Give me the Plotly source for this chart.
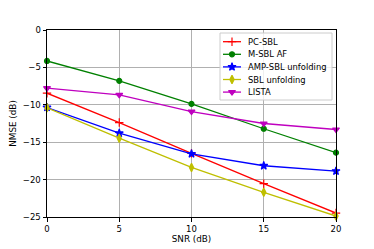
import plotly.graph_objects as go

snr = [0, 5, 10, 15, 20]
pc_sbl = [-8.45, -12.37, -16.5, -20.55, -24.47]
msbl_af = [-4.14, -6.8, -9.88, -13.2, -16.4]
amp_sbl = [-10.36, -13.8, -16.55, -18.15, -18.86]
sbl_unf = [-10.4, -14.46, -18.37, -21.7, -24.87]
lista = [-7.78, -8.67, -10.9, -12.5, -13.3]

names = ["PC-SBL", "M-SBL AF", "AMP-SBL unfolding", "SBL unfolding", "LISTA"]
values = [pc_sbl, msbl_af, amp_sbl, sbl_unf, lista]
colors = ["#ff0000", "#008000", "#0000ff", "#bfbf00", "#bf00bf"]
symbols = ["cross-thin", "circle", "star", "diamond-tall", "triangle-down"]
sizes = [6, 5, 6, 6, 6]

# figure layout in pixels
W, H = 374, 249
L, R, T, B = 47, 336, 30, 217

fig = go.Figure()
for name, ys, col, sym, sz in zip(names, values, colors, symbols, sizes):
    fig.add_trace(go.Scatter(
        x=snr, y=ys, name=name, mode="lines+markers",
        line=dict(color=col, width=1.3),
        marker=dict(symbol=sym, size=sz, color=col,
                    line=dict(color=col, width=1.2)),
        cliponaxis=False, showlegend=False,
    ))

# manual legend on a pixel-space overlay axis
lg_x0, lg_x1, lg_y0, lg_y1 = 220, 332, 33, 100
row_y0, row_dy = 41.7, 12.6
fig.add_trace(go.Scatter(
    x=[lg_x0, lg_x1, lg_x1, lg_x0, lg_x0], y=[lg_y0, lg_y0, lg_y1, lg_y1, lg_y0],
    xaxis="x2", yaxis="y2", mode="lines", fill="toself",
    fillcolor="rgba(255,255,255,0.8)", line=dict(color="#cccccc", width=1),
    showlegend=False, hoverinfo="skip",
))
for i, (name, col, sym, sz) in enumerate(zip(names, colors, symbols, sizes)):
    yy = row_y0 + i * row_dy
    fig.add_trace(go.Scatter(
        x=[223, 232, 241], y=[yy, yy, yy], xaxis="x2", yaxis="y2",
        mode="lines", line=dict(color=col, width=1.3),
        showlegend=False, hoverinfo="skip",
    ))
    fig.add_trace(go.Scatter(
        x=[232], y=[yy], xaxis="x2", yaxis="y2", mode="markers",
        marker=dict(symbol=sym, size=sz, color=col, line=dict(color=col, width=1.2)),
        showlegend=False, hoverinfo="skip",
    ))
    fig.add_annotation(x=247.5, y=yy, xref="x2", yref="y2", text=name,
                       showarrow=False, xanchor="left", yanchor="middle",
                       xshift=-2, font=dict(size=8.4, color="black"))

axis_common = dict(
    showgrid=True, gridcolor="#b0b0b0", gridwidth=0.8,
    showline=True, linecolor="black", linewidth=1, mirror=True,
    ticks="outside", ticklen=3.5, tickcolor="black", tickwidth=0.8,
    tickfont=dict(size=8.5), zeroline=False, automargin=False,
)

fig.update_layout(
    width=W, height=H,
    margin=dict(l=L, r=W - R, t=T, b=H - B),
    paper_bgcolor="white", plot_bgcolor="white",
    font=dict(family="DejaVu Sans", size=8.5, color="black"),
    showlegend=False,
    xaxis=dict(range=[0, 20], tickvals=[0, 5, 10, 15, 20],
               title=dict(text="SNR (dB)", standoff=2, font=dict(size=8.8)),
               **axis_common),
    yaxis=dict(range=[-25, 0], tickvals=[0, -5, -10, -15, -20, -25],
               title=dict(text="NMSE (dB)", standoff=4, font=dict(size=8.8)),
               **axis_common),
    xaxis2=dict(overlaying="x", range=[L, R], visible=False),
    yaxis2=dict(overlaying="y", range=[B, T], visible=False, anchor="x2"),
)
fig.write_html("out.html", config={"displayModeBar": False},
               post_script="document.body.style.margin='0';document.body.style.padding='0';")
